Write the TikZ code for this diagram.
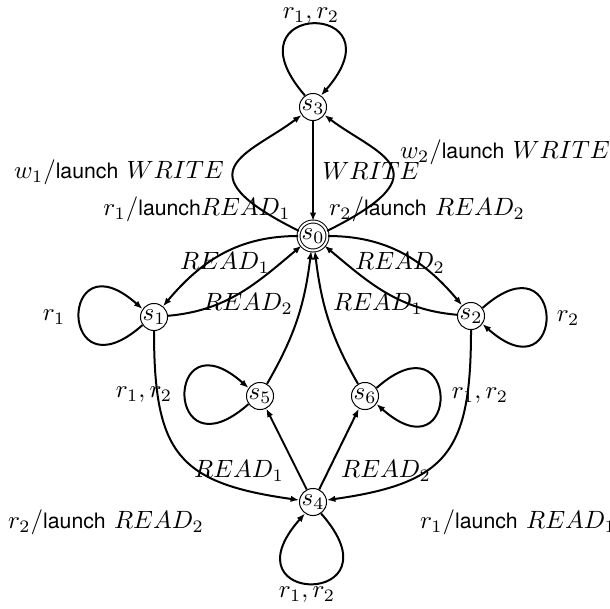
\documentclass[tikz,border=0pt]{standalone}
\usepackage{fontspec}
\setsansfont{TeX Gyre Heros}
\usetikzlibrary{arrows.meta}
\newcommand{\lch}{{\fontsize{8.5}{10}\selectfont\sffamily launch}}
\begin{document}
\begin{tikzpicture}[x=0.4pt,y=-0.4pt,
  st/.style={circle,draw,line width=0.4pt,minimum size=10pt,inner sep=0pt},
  stz/.style={circle,draw,double,double distance=0.8pt,line width=0.4pt,minimum size=11.6pt,inner sep=0pt},
  tr/.style={line width=0.8pt,-{Latex[length=3.4pt,width=2.6pt]}},
  lb/.style={inner sep=0pt}]
\useasboundingbox (0,0) rectangle (610,608);
% states
\node[st]  (s3) at (313,107) {$s_3$};
\node[stz] (s0) at (313,236) {$s_0$};
\node[st]  (s1) at (154,317) {$s_1$};
\node[st]  (s2) at (471,316) {$s_2$};
\node[st]  (s5) at (260,396) {$s_5$};
\node[st]  (s6) at (365,396) {$s_6$};
\node[st]  (s4) at (313,502) {$s_4$};
% labels
\node[lb] (l1)  at (311,16)  {$r_1, r_2$};
\node[lb] (l2)  at (119,172) {$w_1/$\lch{} $WRITE$};
\node[lb] (l3)  at (371,171) {$WRITE$};
\node[lb] (l4)  at (505,152) {$w_2/$\lch{} $WRITE$};
\node[lb] (l5)  at (197,209) {$r_1/$\lch$READ_1$};
\node[lb] (l6)  at (427,209) {$r_2/$\lch{} $READ_2$};
\node[lb] (l7)  at (225,263) {$READ_1$};
\node[lb] (l8)  at (248,304) {$READ_2$};
\node[lb] (l9)  at (400,263) {$READ_2$};
\node[lb] (l10) at (378,304) {$READ_1$};
\node[lb] (l11) at (54,317)  {$r_1$};
\node[lb] (l12) at (568,318) {$r_2$};
\node[lb] (l13) at (144,395) {$r_1, r_2$};
\node[lb] (l14) at (480,396) {$r_1, r_2$};
\node[lb] (l15) at (239,471) {$READ_1$};
\node[lb] (l16) at (386,471) {$READ_2$};
\node[lb] (l17) at (106,522) {$r_2/$\lch{} $READ_2$};
\node[lb] (l18) at (518,522) {$r_1/$\lch{} $READ_1$};
\node[lb] (l19) at (307,595) {$r_1, r_2$};
% transitions
\draw[tr] (s3.125) .. controls (222,0) and (404,0) .. (s3.55);
\draw[tr] (s0.160) .. controls (178,171) and (250,154) .. (s3.215);
\draw[tr] (s0.20) .. controls (448,171) and (376,154) .. (s3.-35);
\draw[tr] (s3) -- (s0);
\draw[tr] (s0) to[out=180,in=50] (s1);
\draw[tr] (s1) to[out=5,in=-140] (s0);
\draw[tr] (s0) to[out=0,in=130] (s2);
\draw[tr] (s2) to[out=175,in=-40] (s0);
\draw[tr] (s1.215) .. controls (58,400) and (58,234) .. (s1.145);
\draw[tr] (s2.35) .. controls (567,233) and (567,399) .. (s2.-35);
\draw[tr] (s5.215) .. controls (164,479) and (164,313) .. (s5.145);
\draw[tr] (s6.35) .. controls (461,313) and (461,479) .. (s6.-35);
\draw[tr] (s5) to[out=60,in=-97] (s0);
\draw[tr] (s6) to[out=120,in=-83] (s0);
\draw[tr] (s4) -- (s5);
\draw[tr] (s4) -- (s6);
\draw[tr] (s1) to[out=-90,in=172,looseness=1.4] (s4);
\draw[tr] (s2) to[out=-90,in=8,looseness=1.4] (s4);
\draw[tr] (s4.-55) .. controls (404,607) and (222,607) .. (s4.-125);
\end{tikzpicture}
\end{document}
